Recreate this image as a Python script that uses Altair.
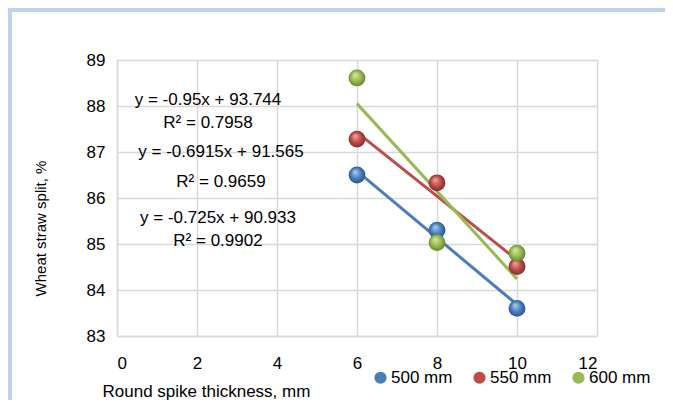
import altair as alt
import pandas as pd

# ---- data ----
thickness = [6, 8, 10]
series_names = ["500 mm", "550 mm", "600 mm"]
split_500 = [86.5, 85.3, 83.6]
split_550 = [87.28, 86.33, 84.51]
split_600 = [88.61, 85.03, 84.80]
equations = ["y = -0.95x + 93.744", "R² = 0.7958",
             "y = -0.6915x + 91.565", "R² = 0.9659",
             "y = -0.725x + 90.933", "R² = 0.9902"]
x_ticks = [0, 2, 4, 6, 8, 10, 12]
y_ticks = [83, 84, 85, 86, 87, 88, 89]

colors = ["#4a7ebb", "#be4b48", "#98b954"]
light = ["#b4d0f5", "#f0a8a6", "#d6ef9e"]
dark = ["#234f8a", "#7e2523", "#5f7c2a"]

rows = []
for name, vals in zip(series_names, [split_500, split_550, split_600]):
    for t, v in zip(thickness, vals):
        rows.append({"thickness": t, "split": v, "series": name})
df = pd.DataFrame(rows)

FONT = "Liberation Sans"
W, H = 480, 276
PL, PT = 109, 52

xscale = alt.Scale(domain=[0, 12], nice=False)
yscale = alt.Scale(domain=[83, 89], nice=False, zero=False)

base = alt.Chart(df)

layers = []

# decorative frame (blue glow + gray edge), pixel-positioned
one = alt.Data(values=[{}])
frame_specs = [
    (-PL, -PL + 3, -PT, 400, "#b9d3f4"),          # left blue band
    (-PL + 3, -PL + 4, -PT + 3, 400, "#d0d0d0"),  # left gray edge
    (-PL, 700, -PT, -PT + 3, "#b9d3f4"),          # top blue band
    (-PL + 3, 700, -PT + 3, -PT + 4, "#d0d0d0"),  # top gray edge
]
for x1, x2, y1, y2, c in frame_specs:
    layers.append(
        alt.Chart(one).mark_rect(color=c).encode(
            x=alt.value(x1), x2=alt.value(x2), y=alt.value(y1), y2=alt.value(y2)
        )
    )

# axes carrier (invisible) with grid
axes = base.mark_point(opacity=0).encode(
    x=alt.X("thickness:Q", scale=xscale,
            axis=alt.Axis(values=x_ticks, title="Round spike thickness, mm",
                          titleX=-15, titleY=60, titleAlign="left",
                          titleBaseline="alphabetic")),
    y=alt.Y("split:Q", scale=yscale,
            axis=alt.Axis(values=y_ticks, title="Wheat straw split, %",
                          titleX=-77, titleY=168, titleAngle=-90,
                          titleFontSize=15,
                          titleAlign="center", titleBaseline="middle")),
)
layers.append(axes)

# trend lines (least-squares via Vega-Lite regression)
for name, c in zip(series_names, colors):
    layers.append(
        base.transform_filter(alt.datum.series == name)
        .transform_regression("thickness", "split")
        .mark_line(color=c, strokeWidth=3)
        .encode(x=alt.X("thickness:Q", scale=xscale),
                y=alt.Y("split:Q", scale=yscale))
    )

# sphere-like points
for name, c, lc, dc in zip(series_names, colors, light, dark):
    grad = alt.RadialGradient(
        gradient="radial",
        stops=[alt.GradientStop(color=lc, offset=0),
               alt.GradientStop(color=c, offset=0.55),
               alt.GradientStop(color=dc, offset=1)],
        x1=0.38, y1=0.3, r1=0, x2=0.5, y2=0.5, r2=0.55,
    )
    layers.append(
        base.transform_filter(alt.datum.series == name)
        .mark_circle(fill=grad, size=283, opacity=1)
        .encode(x=alt.X("thickness:Q", scale=xscale),
                y=alt.Y("split:Q", scale=yscale))
    )

# legend carrier
layers.append(
    base.mark_circle(opacity=0, size=10).encode(
        x=alt.X("thickness:Q", scale=xscale),
        y=alt.Y("split:Q", scale=yscale),
        color=alt.Color("series:N",
                        scale=alt.Scale(domain=series_names, range=colors),
                        legend=alt.Legend(orient="none", legendX=255, legendY=309,
                                          direction="horizontal", title=None,
                                          symbolType="circle", symbolSize=150,
                                          symbolOpacity=1, symbolStrokeWidth=0,
                                          labelFontSize=17, labelFont=FONT,
                                          labelColor="#000000", labelOffset=2,
                                          columnPadding=18, padding=0)),
    )
)

# equation annotations (pixel positions)
eq_pos = [(91, 40), (91, 63), (104, 92), (104, 122), (101, 158), (101, 181)]
for lab, (px, py) in zip(equations, eq_pos):
    layers.append(
        alt.Chart(alt.Data(values=[{"label": lab}])).mark_text(
            font=FONT, fontSize=17, color="#000000", align="center",
            baseline="middle"
        ).encode(text="label:N", x=alt.value(px), y=alt.value(py))
    )

chart = alt.layer(*layers).properties(
    width=W, height=H,
    autosize=alt.AutoSizeParams(type="none"),
    padding={"left": PL, "top": PT, "right": 68, "bottom": 64},
    background="white",
).configure_view(stroke="#d9d9d9").configure_axis(
    grid=True, gridColor="#d9d9d9", gridWidth=1.5,
    domainColor="#d9d9d9", domainWidth=1.5, ticks=False,
    labelFont=FONT, labelFontSize=17, labelColor="#000000",
    titleFont=FONT, titleFontSize=17, titleColor="#000000", titleFontWeight="normal",
).configure_axisX(labelPadding=19).configure_axisY(labelPadding=12)

chart.save("out.html", embed_options={"renderer": "svg", "actions": False})
